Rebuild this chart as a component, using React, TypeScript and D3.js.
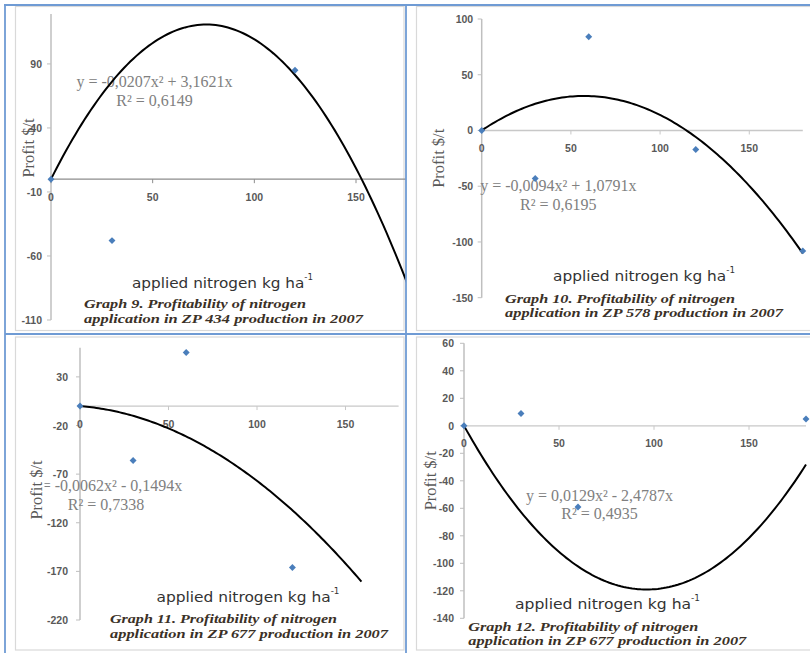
import React from "react";
import * as d3 from "d3";

const X_TICKS = [0, 50, 100, 150];

const G9_X = [0, 30, 120];
const G9_Y = [0, -48, 85];
const G9_FIT = [-0.0207, 3.1621];
const G9_Y_TICKS = [-110, -60, -10, 40, 90];
const G9_EQ = "y = -0,0207x² + 3,1621x";
const G9_R2 = "R² = 0,6149";
const G9_CAPTION = ["Graph 9. Profitability of nitrogen", "application in ZP 434 production in  2007"];

const G10_X = [0, 30, 60, 120, 180];
const G10_Y = [0, -43, 84, -17, -108];
const G10_FIT = [-0.0094, 1.0791];
const G10_Y_TICKS = [-150, -100, -50, 0, 50, 100];
const G10_EQ = "y = -0,0094x² + 1,0791x";
const G10_R2 = "R² = 0,6195";
const G10_CAPTION = ["Graph 10. Profitability of nitrogen", "application in ZP 578 production in  2007"];

const G11_X = [0, 30, 60, 120];
const G11_Y = [0, -56, 55, -166];
const G11_FIT = [-0.0062, -0.1494];
const G11_Y_TICKS = [-220, -170, -120, -70, -20, 30];
const G11_EQ = "y = -0,0062x² - 0,1494x";
const G11_R2 = "R² = 0,7338";
const G11_CAPTION = ["Graph 11. Profitability of nitrogen", "application in ZP 677 production in  2007"];

const G12_X = [0, 30, 60, 180];
const G12_Y = [0, 9, -59, 5];
const G12_FIT = [0.0129, -2.4787];
const G12_Y_TICKS = [-140, -120, -100, -80, -60, -40, -20, 0, 20, 40, 60];
const G12_EQ = "y = 0,0129x² - 2,4787x";
const G12_R2 = "R² = 0,4935";
const G12_CAPTION = ["Graph 12. Profitability of nitrogen", "application in ZP 677 production in  2007"];

const Y_TITLE = "Profit $/t";
const X_TITLE = "applied nitrogen kg ha";

const PANELS = [
  {
    id: "p9", xs: G9_X, ys: G9_Y, fit: G9_FIT, yTicks: G9_Y_TICKS, eq: G9_EQ, r2: G9_R2, caption: G9_CAPTION,
    xDomain: [0, 180], yDomain: [-110, 129], fitMax: 180,
    clip: [5, 5, 406, 334], frame: [15.5, 6.5, 388.5, 324],
    xRange: [51, 417], yRange: [320, 14],
    eqPos: [154.5, 81, 100], yTitlePos: [28, 148], xTitlePos: [222.5, 283], xTitleW: 181,
    capPos: [84, 303, 318], capW: [222, 279], yLabOff: 9, bg: false, xAxisColor: "#8c8c8c",
  },
  {
    id: "p10", xs: G10_X, ys: G10_Y, fit: G10_FIT, yTicks: G10_Y_TICKS, eq: G10_EQ, r2: G10_R2, caption: G10_CAPTION,
    xDomain: [0, 180], yDomain: [-150, 100], fitMax: 180,
    clip: [406, 5, 810, 334], frame: [416.5, 6.5, 400, 324],
    xRange: [481.7, 802.8], yRange: [297.7, 19],
    eqPos: [558.3, 185.7, 204], yTitlePos: [438.3, 158.3], xTitlePos: [644, 276], xTitleW: 182,
    capPos: [505, 298, 312], capW: [230, 278], yLabOff: 8.5, bg: false, xAxisColor: "#c8c8c8",
  },
  {
    id: "p11", xs: G11_X, ys: G11_Y, fit: G11_FIT, yTicks: G11_Y_TICKS, eq: G11_EQ, r2: G11_R2, caption: G11_CAPTION,
    xDomain: [0, 180], yDomain: [-220, 60], fitMax: 159,
    clip: [5, 334, 406, 653], frame: [15.5, 337, 388.5, 313],
    xRange: [80, 398.6], yRange: [620, 347.7],
    eqPos: [106, 485, 504], yTitlePos: [36.5, 490], xTitlePos: [248, 596.7], xTitleW: 183,
    capPos: [110, 618.3, 633.3], capW: [227, 278], yLabOff: 12, bg: true, xAxisColor: "#c8c8c8",
  },
  {
    id: "p12", xs: G12_X, ys: G12_Y, fit: G12_FIT, yTicks: G12_Y_TICKS, eq: G12_EQ, r2: G12_R2, caption: G12_CAPTION,
    xDomain: [0, 180], yDomain: [-140, 60], fitMax: 180,
    clip: [406, 334, 810, 653], frame: [416.5, 337, 400, 313],
    xRange: [464, 806], yRange: [618.3, 343.3],
    eqPos: [599.5, 495, 513.3], yTitlePos: [430, 480.8], xTitlePos: [607.5, 604.3], xTitleW: 185,
    capPos: [468.3, 626.7, 640], capW: [230, 278], yLabOff: 10, bg: false, xAxisColor: "#c8c8c8",
  },
];

const SANS = "'Liberation Sans', Arial, sans-serif";
const SERIF = "'Liberation Serif', 'Times New Roman', serif";
const WIDE = "'DejaVu Sans', Verdana, sans-serif";

function Panel({ p }: { p: any }) {
  const x = d3.scaleLinear().domain(p.xDomain).range(p.xRange);
  const y = d3.scaleLinear().domain(p.yDomain).range(p.yRange);
  const [a, b] = p.fit;
  const fitXs = d3.range(0, p.fitMax + 0.001, p.fitMax / 120);
  const line = d3
    .line<number>()
    .x((v) => x(v))
    .y((v) => y(a * v * v + b * v))
    .curve(d3.curveLinear);
  const marker = d3.symbol().type(d3.symbolSquare).size(24)();
  const x0 = x(0);
  const y0 = y(0);
  return (
    <g clipPath={`url(#clip-${p.id})`}>
      <rect x={p.frame[0]} y={p.frame[1]} width={p.frame[2]} height={p.frame[3]} fill="none" stroke="#d9d9d9" strokeWidth={1.2} />
      <line x1={x0} x2={x0} y1={p.yRange[0]} y2={p.yRange[1]} stroke="#bfbfbf" strokeWidth={1.5} />
      <line x1={p.xRange[0]} x2={p.xRange[1]} y1={y0} y2={y0} stroke={p.xAxisColor} strokeWidth={1.3} />
      {X_TICKS.map((t) => (
        <line key={"xt" + t} x1={x(t)} x2={x(t)} y1={y0} y2={y0 + 4} stroke={p.xAxisColor} strokeWidth={1} />
      ))}
      <text x={p.eqPos[0]} y={p.eqPos[1]} textAnchor="middle" dominantBaseline="central" fontFamily={SERIF} fontSize={16} fill="#808080">
        {p.eq}
      </text>
      <text x={p.eqPos[0]} y={p.eqPos[2]} textAnchor="middle" dominantBaseline="central" fontFamily={SERIF} fontSize={16} fill="#808080">
        {p.r2}
      </text>
      {p.yTicks.map((t: number) => (
        <g key={"yt" + t}>
          <line x1={x0 - 4} x2={x0} y1={y(t)} y2={y(t)} stroke="#bfbfbf" strokeWidth={1} />
          <text x={x0 - p.yLabOff} y={y(t)} textAnchor="end" dominantBaseline="central" fontFamily={SANS} fontSize={10.5} fontWeight="bold" fill="#595959">
            {t}
          </text>
        </g>
      ))}
      {X_TICKS.map((t) => (
        <text key={"xl" + t} x={x(t)} y={y0 + 17.5} textAnchor="middle" dominantBaseline="central" fontFamily={SANS} fontSize={10.5} fontWeight="bold" fill="#595959">
          {t}
        </text>
      ))}
      <path d={line(fitXs) || ""} fill="none" stroke="#000" strokeWidth={2} />
      {p.xs.map((v: number, i: number) => (
        <path key={"pt" + i} d={marker || ""} transform={`translate(${x(v)},${y(p.ys[i])}) rotate(45)`} fill="#4a7ebb" />
      ))}
      {p.bg && <rect x={p.yTitlePos[0] - 8} y={p.yTitlePos[1] - 34} width={16} height={68} fill="#fff" />}
      <text
        transform={`translate(${p.yTitlePos[0]},${p.yTitlePos[1]}) rotate(-90)`}
        textAnchor="middle"
        dominantBaseline="central"
        fontFamily={SERIF}
        fontSize={16.5}
        fill="#595959"
      >
        {Y_TITLE}
      </text>
      <text
        x={p.xTitlePos[0]}
        y={p.xTitlePos[1]}
        textAnchor="middle"
        dominantBaseline="central"
        fontFamily={WIDE}
        fontSize={14}
        fill="#333"
        textLength={p.xTitleW}
        lengthAdjust="spacingAndGlyphs"
      >
        {X_TITLE}
        <tspan fontSize={8} dy={-6}>-1</tspan>
      </text>
      {p.caption.map((c: string, i: number) => (
        <text
          key={"cap" + i}
          x={p.capPos[0]}
          y={p.capPos[1 + i]}
          dominantBaseline="central"
          fontFamily={SERIF}
          fontSize={13}
          fontStyle="italic"
          fontWeight="bold"
          fill="#3b3127"
          textLength={p.capW[i]}
          lengthAdjust="spacingAndGlyphs"
        >
          {c}
        </text>
      ))}
    </g>
  );
}

export default function App() {
  return (
    <svg width={810} height={653} style={{ position: "absolute", left: 0, top: 0, background: "#fff" }}>
      <defs>
        {PANELS.map((p) => (
          <clipPath key={p.id} id={`clip-${p.id}`}>
            <rect x={p.clip[0]} y={p.clip[1]} width={p.clip[2] - p.clip[0]} height={p.clip[3] - p.clip[1]} />
          </clipPath>
        ))}
      </defs>
      <rect x={0} y={0} width={810} height={653} fill="#fff" />
      {PANELS.map((p) => (
        <Panel key={p.id} p={p} />
      ))}
      <g stroke="#6f9bd4" strokeWidth={1.8}>
        <line x1={5} x2={5} y1={4} y2={653} />
        <line x1={4} x2={810} y1={5} y2={5} />
        <line x1={406} x2={406} y1={4} y2={653} />
        <line x1={5} x2={810} y1={334} y2={334} />
      </g>
    </svg>
  );
}
